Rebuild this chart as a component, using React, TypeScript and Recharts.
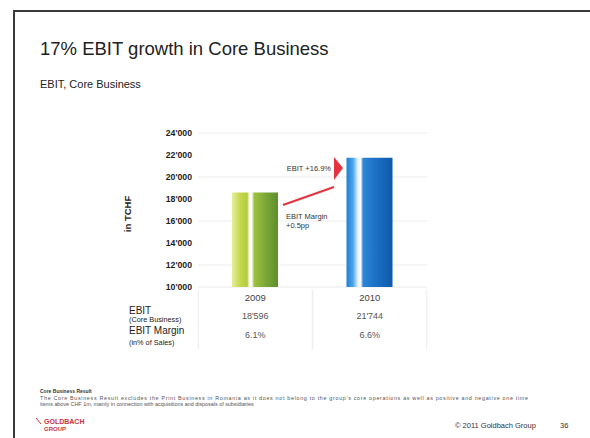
import { BarChart, Bar, XAxis, YAxis, CartesianGrid, Cell } from 'recharts'

const years = ['2009', '2010']
const ebit = [18596, 21744]
const ebitLabels = ["18'596", "21'744"]
const margins = ['6.1%', '6.6%']
const yTicks = [10000, 12000, 14000, 16000, 18000, 20000, 22000, 24000]
const barFills = ['url(#greenBar)', 'url(#blueBar)']

const FONT = 'Arial, "Liberation Sans", sans-serif'

const data = years.map((y, i) => ({ year: y, ebit: ebit[i] }))

const fmt = (v: number) => {
  const s = String(v)
  return s.slice(0, s.length - 3) + "'" + s.slice(-3)
}

function TableTick(props: any) {
  const { x, y, index } = props
  return (
    <g>
      <line x1={x - 57} x2={x - 57} y1={y + 3} y2={y + 62} stroke="#ececec" />
      <line x1={x + 57} x2={x + 57} y1={y + 3} y2={y + 62} stroke="#ececec" />
      <text x={x} y={y + 13.5} textAnchor="middle" fontSize={9.5} fill="#444" fontFamily={FONT}>
        {years[index]}
      </text>
      <text x={x} y={y + 32} textAnchor="middle" fontSize={9} fill="#555" fontFamily={FONT}>
        {ebitLabels[index]}
      </text>
      <text x={x} y={y + 51} textAnchor="middle" fontSize={9} fill="#555" fontFamily={FONT}>
        {margins[index]}
      </text>
    </g>
  )
}

export default function App() {
  return (
    <div style={{ position: 'absolute', left: 0, top: 0, width: 590, height: 438, background: '#fff', fontFamily: FONT, overflow: 'hidden' }}>
      {/* slide frame */}
      <div style={{ position: 'absolute', left: 13, top: 10, width: 600, height: 440, borderLeft: '2px solid #3a3a3a', borderTop: '2px solid #3a3a3a' }} />
      <div style={{ position: 'absolute', left: 40, top: 38, fontSize: 18.5, color: '#222', whiteSpace: 'nowrap' }}>
        17% EBIT growth in Core Business
      </div>
      <div style={{ position: 'absolute', left: 40, top: 78, fontSize: 11, color: '#222', whiteSpace: 'nowrap' }}>
        EBIT, Core Business
      </div>

      <div style={{ position: 'absolute', left: 0, top: 0 }}>
        <BarChart width={590} height={438} data={data} margin={{ top: 133, right: 163, left: 138, bottom: 91 }}>
          <defs>
            <linearGradient id="greenBar" x1="0" y1="0" x2="1" y2="0">
              <stop offset="0" stopColor="#e6ee9c" />
              <stop offset="0.18" stopColor="#c4d84e" />
              <stop offset="0.33" stopColor="#b3cc3e" />
              <stop offset="0.38" stopColor="#ffffff" />
              <stop offset="0.43" stopColor="#ffffff" />
              <stop offset="0.48" stopColor="#9ec23e" />
              <stop offset="0.75" stopColor="#7aa536" />
              <stop offset="1" stopColor="#5e8e2c" />
            </linearGradient>
            <linearGradient id="blueBar" x1="0" y1="0" x2="1" y2="0">
              <stop offset="0" stopColor="#1f7fd2" />
              <stop offset="0.14" stopColor="#4aa4ea" />
              <stop offset="0.25" stopColor="#e8f4fd" />
              <stop offset="0.31" stopColor="#ffffff" />
              <stop offset="0.36" stopColor="#2c86d6" />
              <stop offset="0.7" stopColor="#1a6cc0" />
              <stop offset="1" stopColor="#0f5aa8" />
            </linearGradient>
          </defs>
          <CartesianGrid horizontal vertical={false} stroke="#ececec" />
          <XAxis
            dataKey="year"
            axisLine={false}
            tickLine={false}
            tickSize={0}
            tickMargin={0}
            height={60}
            interval={0}
            tick={<TableTick />}
          />
          <YAxis
            type="number"
            domain={[10000, 24000]}
            ticks={yTicks}
            width={60}
            axisLine={false}
            tickLine={false}
            tickSize={0}
            tickMargin={6}
            tickFormatter={fmt}
            tick={{ fontSize: 8.7, fill: '#222', fontWeight: 'bold', fontFamily: FONT }}
          />
          <Bar dataKey="ebit" barSize={46} isAnimationActive={false}>
            {data.map((d, i) => (
              <Cell key={d.year} fill={barFills[i]} />
            ))}
          </Bar>
        </BarChart>
      </div>

      {/* annotations and table labels */}
      <svg width={590} height={438} style={{ position: 'absolute', left: 0, top: 0, pointerEvents: 'none' }} fontFamily={FONT}>
        <text x={0} y={0} transform="translate(131,214) rotate(-90)" textAnchor="middle" fontSize={9.5} fontWeight="bold" fill="#222">in TCHF</text>

        <line x1={283} y1={205} x2={334} y2={187} stroke="#e3343f" strokeWidth={2.2} />
        <polygon points="334,157 343,168 334,180" fill="#e3343f" />
        <text x={331} y={171} textAnchor="end" fontSize={7.5} fill="#333">EBIT +16.9%</text>
        <text x={286} y={219} fontSize={7.5} fill="#333">EBIT Margin</text>
        <text x={286} y={228} fontSize={7.5} fill="#333">+0.5pp</text>

        <text x={129} y={313.5} fontSize={10} fill="#222">EBIT</text>
        <text x={129} y={322} fontSize={7.3} fill="#222">(Core Business)</text>
        <text x={129} y={334} fontSize={10} fill="#222">EBIT Margin</text>
        <text x={129} y={345} fontSize={7.3} fill="#222">(in% of Sales)</text>

        <text x={40} y={393} fontSize={5} fontWeight="bold" fill="#333">Core Business Result</text>
        <text x={40} y={399.5} fontSize={5.4} fill="#555" textLength={488} lengthAdjust="spacing">
          The Core Business Result excludes the Print Business in Romania as it does not belong to the group's core operations as well as positive and negative one time
        </text>
        <text x={40} y={406} fontSize={5.4} fill="#555">
          items above CHF 1m, mainly in connection with acquisitions and disposals of subsidiaries
        </text>

        <text x={44} y={424} fontSize={7} fontWeight="bold" fill="#c8323c">GOLDBACH</text>
        <text x={44} y={431} fontSize={6} fontWeight="bold" fill="#c8323c">GROUP</text>
        <line x1={36} y1={418} x2={41} y2={424} stroke="#c8323c" strokeWidth={1} />

        <text x={455} y={428} fontSize={7.5} fill="#333">© 2011 Goldbach Group</text>
        <text x={560} y={428} fontSize={7.5} fill="#333">36</text>
      </svg>
    </div>
  )
}
